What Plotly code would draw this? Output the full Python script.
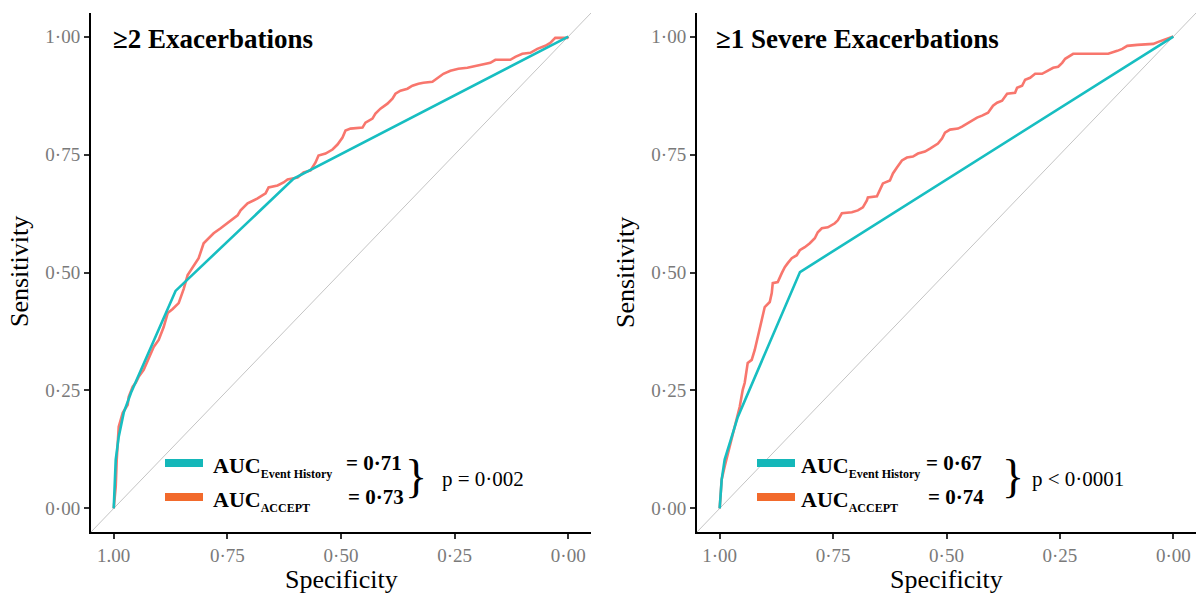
import plotly.graph_objects as go

# ---- ROC data: >=2 exacerbations ----
ex2_accept_spec = [1.0, 0.9956, 0.9934, 0.9912, 0.9890, 0.9802, 0.9692, 0.9670, 0.9582, 0.9516,
                   0.9451, 0.9341, 0.9231, 0.9121, 0.9011, 0.8901, 0.8813, 0.8703, 0.8571, 0.8462,
                   0.8374, 0.8242, 0.8132, 0.8022, 0.7912, 0.7802, 0.7648, 0.7473, 0.7275, 0.7209,
                   0.7055, 0.6835, 0.6659, 0.6593, 0.6396, 0.6264, 0.6176, 0.5956, 0.5824, 0.5670,
                   0.5560, 0.5495, 0.5341, 0.5187, 0.5077, 0.4967, 0.4901, 0.4791, 0.4527, 0.4462,
                   0.4308, 0.4242, 0.4132, 0.3978, 0.3868, 0.3802, 0.3692, 0.3538, 0.3429, 0.3297,
                   0.3187, 0.2989, 0.2879, 0.2747, 0.2593, 0.2418, 0.2220, 0.2044, 0.1868, 0.1714,
                   0.1604, 0.1275, 0.1165, 0.1011, 0.0835, 0.0681, 0.0505, 0.0396, 0.0286, 0.0022, 0.0]
ex2_accept_sens = [0.0, 0.0465, 0.1035, 0.1394, 0.1733, 0.2028, 0.2197, 0.2366, 0.2578, 0.2662,
                   0.2789, 0.2937, 0.3190, 0.3423, 0.3571, 0.3845, 0.4141, 0.4226, 0.4352, 0.4648,
                   0.4944, 0.5155, 0.5303, 0.5620, 0.5726, 0.5831, 0.5937, 0.6064, 0.6212, 0.6317,
                   0.6465, 0.6571, 0.6677, 0.6803, 0.6846, 0.6909, 0.6972, 0.7015, 0.7120, 0.7163,
                   0.7332, 0.7480, 0.7522, 0.7606, 0.7712, 0.7860, 0.8008, 0.8050, 0.8071, 0.8177,
                   0.8261, 0.8367, 0.8472, 0.8578, 0.8684, 0.8789, 0.8853, 0.8895, 0.8958, 0.9001,
                   0.9022, 0.9043, 0.9127, 0.9212, 0.9275, 0.9318, 0.9339, 0.9381, 0.9423, 0.9444,
                   0.9508, 0.9508, 0.9571, 0.9635, 0.9656, 0.9740, 0.9804, 0.9867, 0.9973, 0.9973, 1.0]
ex2_history_spec = [1.0, 0.998, 0.9956, 0.989, 0.978, 0.962, 0.864, 0.604, 0.0]
ex2_history_sens = [0.0, 0.05, 0.1035, 0.152, 0.203, 0.245, 0.461, 0.699, 1.0]

# ---- ROC data: >=1 severe exacerbation ----
sev_accept_spec = [1.0, 0.9956, 0.9890, 0.9779, 0.9713, 0.9625, 0.9558, 0.9492, 0.9448, 0.9382,
                   0.9294, 0.9227, 0.9161, 0.9117, 0.9073, 0.9007, 0.8896, 0.8852, 0.8830, 0.8720,
                   0.8631, 0.8565, 0.8499, 0.8411, 0.8300, 0.8234, 0.8124, 0.8013, 0.7903, 0.7837,
                   0.7748, 0.7616, 0.7461, 0.7395, 0.7307, 0.7086, 0.6954, 0.6843, 0.6755, 0.6733,
                   0.6534, 0.6468, 0.6402, 0.6247, 0.6181, 0.6093, 0.5982, 0.5872, 0.5740, 0.5629,
                   0.5475, 0.5364, 0.5298, 0.5188, 0.5099, 0.5033, 0.4923, 0.4746, 0.4658, 0.4547,
                   0.4437, 0.4327, 0.4216, 0.4084, 0.3974, 0.3885, 0.3775, 0.3664, 0.3488, 0.3444,
                   0.3333, 0.3267, 0.3157, 0.3046, 0.2892, 0.2781, 0.2649, 0.2539, 0.2450, 0.2384,
                   0.2208, 0.1435, 0.1347, 0.1236, 0.1126, 0.1015, 0.0795, 0.0442, 0.0331, 0.0221,
                   0.0066, 0.0]
sev_accept_sens = [0.0, 0.0613, 0.0887, 0.1310, 0.1606, 0.1880, 0.2155, 0.2514, 0.2662, 0.3085,
                   0.3148, 0.3359, 0.3634, 0.3845, 0.4057, 0.4268, 0.4374, 0.4564, 0.4775, 0.4796,
                   0.4986, 0.5113, 0.5198, 0.5303, 0.5367, 0.5472, 0.5536, 0.5620, 0.5726, 0.5853,
                   0.5937, 0.5958, 0.6043, 0.6106, 0.6254, 0.6275, 0.6317, 0.6381, 0.6529, 0.6592,
                   0.6613, 0.6740, 0.6888, 0.6951, 0.7099, 0.7226, 0.7374, 0.7437, 0.7458, 0.7522,
                   0.7564, 0.7627, 0.7670, 0.7733, 0.7839, 0.7965, 0.8029, 0.8050, 0.8092, 0.8155,
                   0.8219, 0.8282, 0.8325, 0.8388, 0.8536, 0.8599, 0.8641, 0.8789, 0.8810, 0.8916,
                   0.8958, 0.9085, 0.9127, 0.9212, 0.9212, 0.9275, 0.9339, 0.9360, 0.9444, 0.9529,
                   0.9635, 0.9635, 0.9656, 0.9698, 0.9740, 0.9804, 0.9825, 0.9846, 0.9888, 0.9930,
                   0.9973, 1.0]
sev_history_spec = [1.0, 0.9956, 0.989, 0.978, 0.967, 0.960, 0.823, 0.0]
sev_history_sens = [0.0, 0.061, 0.1035, 0.139, 0.173, 0.194, 0.501, 1.0]

# ---- labels ----
panel_titles = ["≥2 Exacerbations", "≥1 Severe Exacerbations"]
auc_history = ["0·71", "0·67"]
auc_accept = ["0·73", "0·74"]
p_values = ["p = 0·002", "p < 0·0001"]
tick_vals = [1.0, 0.75, 0.5, 0.25, 0.0]
x_ticktext_left = ["1.00", "0·75", "0·50", "0·25", "0·00"]
x_ticktext_right = ["1·00", "0·75", "0·50", "0·25", "0·00"]
y_ticktext = ["1·00", "0·75", "0·50", "0·25", "0·00"]

FONT = "Liberation Serif"
RED = "#F8766D"
TEAL = "#17BEC1"
SW_TEAL = "#14B7B9"
SW_ORANGE = "#F26A2C"
X_RANGE = [1.05, -0.05]
Y_RANGE = [-0.05, 1.05]

W, H = 1200, 595
def px(x):
    return x / W
def py(y):
    return 1 - y / H

fig = go.Figure()

panels = [
    ("x", "y", ex2_accept_spec, ex2_accept_sens, ex2_history_spec, ex2_history_sens),
    ("x2", "y2", sev_accept_spec, sev_accept_sens, sev_history_spec, sev_history_sens),
]
for xa, ya, a_s, a_n, h_s, h_n in panels:
    # chance diagonal across the whole panel
    fig.add_trace(go.Scatter(x=X_RANGE, y=[1 - X_RANGE[0], 1 - X_RANGE[1]], mode="lines",
                             line=dict(color="#C4C4C4", width=1), xaxis=xa, yaxis=ya,
                             showlegend=False, hoverinfo="skip"))
    fig.add_trace(go.Scatter(x=a_s, y=a_n, mode="lines", line=dict(color=RED, width=2.6),
                             xaxis=xa, yaxis=ya, showlegend=False))
    fig.add_trace(go.Scatter(x=h_s, y=h_n, mode="lines", line=dict(color=TEAL, width=2.6),
                             xaxis=xa, yaxis=ya, showlegend=False))

axis_common = dict(range=X_RANGE, showgrid=False, zeroline=False, showline=True,
                   linecolor="black", linewidth=2, ticks="outside", ticklen=5, tickwidth=2,
                   tickcolor="#333333", tickvals=tick_vals, automargin=False,
                   tickfont=dict(family=FONT, size=19, color="#7A7A7A"))
yaxis_common = dict(axis_common, range=Y_RANGE, ticktext=y_ticktext)

y_dom = [py(532), py(13)]
fig.update_layout(
    width=W, height=H, template="none",
    margin=dict(l=0, r=0, t=0, b=0),
    paper_bgcolor="white", plot_bgcolor="white",
    xaxis=dict(axis_common, domain=[px(91), px(591)], ticktext=x_ticktext_left, anchor="y"),
    yaxis=dict(yaxis_common, domain=y_dom, anchor="x"),
    xaxis2=dict(axis_common, domain=[px(697), px(1196)], ticktext=x_ticktext_right, anchor="y2"),
    yaxis2=dict(yaxis_common, domain=y_dom, anchor="x2"),
    font=dict(family=FONT, color="black"),
)

annotations = []
shapes = []
# pixel anchors for each panel's titles and inset legend
layout_px = [
    dict(yt=20, title=111, sw=165, auc=211, eq1=404, eq2=406, brace=416, p=440, xc=341),
    dict(yt=626, title=714, sw=757, auc=799, eq1=984, eq2=986, brace=1013, p=1030, xc=946),
]
SUB = '<sub><span style="font-size:12px">%s</span></sub>'
for i, L in enumerate(layout_px):
    annotations.append(dict(text="<b>%s</b>" % panel_titles[i], x=px(L["title"]), y=py(39),
                            xref="paper", yref="paper", xanchor="left", yanchor="middle",
                            showarrow=False, font=dict(family=FONT, size=27, color="black")))
    annotations.append(dict(text="Sensitivity", x=px(L["yt"]), y=py(272), xref="paper", yref="paper",
                            textangle=-90, xanchor="center", yanchor="middle", showarrow=False,
                            font=dict(family=FONT, size=26, color="black")))
    annotations.append(dict(text="Specificity", x=px(L["xc"]), y=py(579), xref="paper", yref="paper",
                            xanchor="center", yanchor="middle", showarrow=False,
                            font=dict(family=FONT, size=26, color="black")))
    # inset legend swatches
    for yc, col in [(463, SW_TEAL), (497, SW_ORANGE)]:
        shapes.append(dict(type="rect", xref="paper", yref="paper", x0=px(L["sw"]), x1=px(L["sw"] + 38),
                           y0=py(yc + 4), y1=py(yc - 4), fillcolor=col, line=dict(width=0)))
    annotations.append(dict(text="<b>AUC" + SUB % "Event History" + "</b>", x=px(L["auc"]), y=py(467),
                            xref="paper", yref="paper", xanchor="left", yanchor="middle",
                            showarrow=False, font=dict(family=FONT, size=22, color="black")))
    annotations.append(dict(text="<b>AUC" + SUB % "ACCEPT" + "</b>", x=px(L["auc"]), y=py(501),
                            xref="paper", yref="paper", xanchor="left", yanchor="middle",
                            showarrow=False, font=dict(family=FONT, size=22, color="black")))
    annotations.append(dict(text="<b>= %s</b>" % auc_history[i], x=px(L["eq1"]), y=py(463),
                            xref="paper", yref="paper", xanchor="right", yanchor="middle",
                            showarrow=False, font=dict(family=FONT, size=21, color="black")))
    annotations.append(dict(text="<b>= %s</b>" % auc_accept[i], x=px(L["eq2"]), y=py(497),
                            xref="paper", yref="paper", xanchor="right", yanchor="middle",
                            showarrow=False, font=dict(family=FONT, size=21, color="black")))
    annotations.append(dict(text="}", x=px(L["brace"]), y=py(476), xref="paper", yref="paper",
                            xanchor="center", yanchor="middle", showarrow=False,
                            font=dict(family=FONT, size=46, color="black")))
    annotations.append(dict(text=p_values[i], x=px(L["p"]), y=py(479), xref="paper", yref="paper",
                            xanchor="left", yanchor="middle", showarrow=False,
                            font=dict(family=FONT, size=21, color="black")))

fig.update_layout(annotations=annotations, shapes=shapes)
fig.write_html("out.html")
